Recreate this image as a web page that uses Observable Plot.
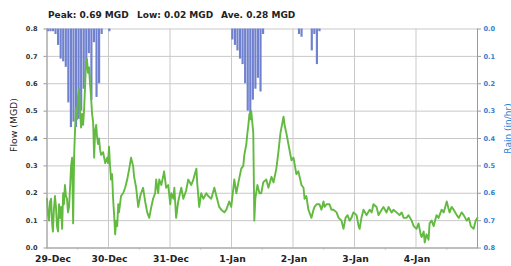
<!DOCTYPE html>
<html>
<head>
<meta charset="utf-8">
<script src="https://cdn.jsdelivr.net/npm/d3@7"></script>
<script src="https://cdn.jsdelivr.net/npm/@observablehq/plot@0.6"></script>
<style>
  html, body { margin: 0; padding: 0; background: #fff; }
  #chart { position: relative; width: 511px; height: 266px; overflow: hidden; }
</style>
</head>
<body>
<div id="chart"></div>
<script>
// ---- Data ----
const statLabels = ["Peak: 0.69 MGD", "Low: 0.02 MGD", "Ave. 0.28 MGD"];
const dayLabels = ["29-Dec", "30-Dec", "31-Dec", "1-Jan", "2-Jan", "3-Jan", "4-Jan"];
const dayHours = [0, 24, 48, 72, 96, 120, 144];
const halfDayHours = [12, 36, 60, 84, 108, 132, 156];
const yTicks = [0, 0.1, 0.2, 0.3, 0.4, 0.5, 0.6, 0.7, 0.8];

// flow (MGD), hours after 29-Dec 00:00
const flowHours = [0,0.4,0.8,1.2,1.6,2.0,2.3,2.7,3.1,3.5,3.9,4.3,4.7,5.1,5.5,5.9,6.3,6.6,7.0,7.4,7.8,8.2,8.6,9.0,9.4,9.8,10.2,10.6,10.9,11.3,11.7,12.1,12.5,12.9,13.3,13.7,14.1,14.5,14.9,15.2,15.6,16.0,16.4,16.8,17.2,17.6,18.0,18.4,18.8,19.2,19.5,19.9,20.3,20.7,21.1,21.9,22.7,23.5,23.8,24.2,24.6,25.0,25.4,25.8,26.2,26.6,27.0,27.4,27.8,28.1,28.9,29.7,30.5,31.3,32.1,32.8,33.6,34.0,34.8,35.6,36.4,36.7,37.5,38.3,39.1,39.9,40.7,41.4,42.2,42.6,43.4,43.8,44.6,45.3,45.7,46.5,47.3,48.1,48.5,49.3,49.7,50.4,51.2,52.4,53.2,54.3,55.1,56.3,57.1,58.3,58.6,59.4,60.2,61.0,62.2,62.9,64.1,65.3,66.1,67.2,68.0,69.2,70.0,71.1,71.9,73.1,73.9,74.7,75.8,76.6,77.0,77.8,78.2,78.6,79.0,79.3,79.7,80.1,80.5,80.9,81.3,82.1,82.9,83.6,84.4,85.6,86.4,87.6,88.4,89.5,90.3,91.1,91.5,91.9,92.3,92.7,93.4,94.2,95.4,96.2,97.3,98.1,99.3,100.1,100.5,101.2,102.0,103.2,104.0,104.4,105.2,106.3,107.1,107.9,108.3,109.1,110.2,111.0,111.8,113.0,113.8,114.9,115.7,116.5,117.3,118.1,118.8,119.6,120.8,121.6,122.0,122.7,123.5,124.7,125.9,126.7,127.4,128.6,129.4,130.6,131.3,132.5,133.3,134.5,135.2,136.4,137.6,138.4,139.2,140.3,141.1,142.3,143.1,144.2,145.0,145.8,146.2,147.0,147.4,148.1,148.9,149.3,150.1,150.9,152.0,152.8,154.0,154.8,156.0,156.8,157.1,157.9,158.7,159.9,160.7,161.8,162.6,163.8,164.6,165.4,166.5,167.3,168.0];
const flowValues = [0.18,0.12,0.10,0.17,0.18,0.09,0.06,0.14,0.19,0.15,0.08,0.06,0.16,0.11,0.15,0.07,0.20,0.16,0.23,0.19,0.18,0.13,0.15,0.22,0.30,0.33,0.09,0.34,0.42,0.51,0.47,0.55,0.58,0.50,0.44,0.49,0.45,0.51,0.60,0.67,0.69,0.64,0.66,0.60,0.55,0.49,0.46,0.33,0.43,0.45,0.41,0.38,0.40,0.36,0.34,0.35,0.31,0.33,0.31,0.37,0.30,0.25,0.27,0.18,0.12,0.05,0.10,0.08,0.16,0.13,0.19,0.20,0.22,0.25,0.29,0.33,0.30,0.26,0.22,0.15,0.19,0.20,0.22,0.17,0.13,0.11,0.15,0.18,0.20,0.25,0.20,0.25,0.23,0.26,0.28,0.22,0.23,0.16,0.20,0.18,0.22,0.11,0.17,0.22,0.18,0.21,0.25,0.23,0.25,0.29,0.24,0.15,0.20,0.18,0.20,0.19,0.18,0.22,0.19,0.15,0.14,0.13,0.14,0.17,0.15,0.25,0.20,0.24,0.29,0.30,0.34,0.38,0.42,0.45,0.49,0.47,0.50,0.46,0.42,0.10,0.18,0.23,0.20,0.20,0.24,0.25,0.22,0.26,0.24,0.29,0.35,0.42,0.44,0.46,0.48,0.45,0.42,0.38,0.32,0.33,0.27,0.28,0.23,0.22,0.18,0.19,0.14,0.11,0.14,0.15,0.16,0.16,0.14,0.17,0.15,0.16,0.16,0.14,0.14,0.13,0.11,0.10,0.07,0.11,0.12,0.10,0.11,0.13,0.12,0.08,0.07,0.11,0.14,0.12,0.14,0.13,0.16,0.15,0.12,0.14,0.15,0.13,0.15,0.13,0.14,0.13,0.12,0.13,0.11,0.11,0.12,0.10,0.08,0.07,0.09,0.05,0.04,0.06,0.02,0.05,0.03,0.09,0.10,0.08,0.12,0.11,0.14,0.13,0.17,0.14,0.13,0.15,0.14,0.12,0.11,0.13,0.12,0.10,0.11,0.08,0.07,0.10,0.11];

// rain (in/hr), hourly, hours after 29-Dec 00:00
const rainHours = [0,1,2,3,4,5,6,7,8,9,10,11,12,13,14,15,16,17,18,19,20,21,24,72,73,74,75,76,77,78,79,80,81,82,83,84,98,99,103,104,105,106];
const rainValues = [0.01,0.01,0.01,0.02,0.06,0.11,0.12,0.14,0.27,0.36,0.34,0.36,0.33,0.30,0.22,0.14,0.09,0.26,0.05,0.25,0.20,0.02,0.01,0.04,0.06,0.08,0.11,0.13,0.20,0.30,0.31,0.26,0.22,0.18,0.23,0.02,0.02,0.03,0.08,0.02,0.13,0.01];

const flowData = flowHours.map((h, i) => ({h, v: flowValues[i]}));
const rainData = rainHours.map((h, i) => ({h, r: rainValues[i]}));
const TOP = 0.8; // rain axis is inverted: 0 in/hr at the top

const GREEN = "#62ba40", BLUE = "#7082cf", AXBLUE = "#2f80d0", GRID = "#c9c9c9";

const chart = Plot.plot({
  width: 511, height: 266,
  marginLeft: 46.5, marginRight: 34, marginTop: 28.5, marginBottom: 18.5,
  x: {type: "linear", domain: [0, 168], label: null},
  y: {domain: [0, 0.8], label: null},
  style: {fontFamily: "DejaVu Sans", background: "#fff", color: "#222", overflow: "visible"},
  marks: [
    Plot.gridY(yTicks, {stroke: GRID, strokeOpacity: 1, strokeWidth: 1}),
    Plot.gridX(dayHours.concat([168]), {stroke: GRID, strokeOpacity: 1, strokeWidth: 1}),
    Plot.rect(rainData, {x1: d => d.h + 0.1, x2: d => d.h + 0.95, y1: TOP, y2: d => TOP - d.r, fill: BLUE}),
    Plot.line(flowData, {x: "h", y: "v", stroke: GREEN, strokeWidth: 1.9, strokeLinejoin: "round"}),
    Plot.frame({anchor: "left", stroke: "#9a9a9a"}),
    Plot.frame({anchor: "right", stroke: "#9a9a9a"}),
    Plot.frame({anchor: "bottom", stroke: "#9a9a9a"}),
    Plot.axisY(yTicks, {anchor: "left", tickSize: 3, tickPadding: 6.5, stroke: "#9a9a9a", label: null,
      tickFormat: d => d.toFixed(1), fontSize: 6.6, fontWeight: "bold", fill: "#333"}),
    Plot.axisY(yTicks, {anchor: "right", tickSize: 3, tickPadding: 3, stroke: "#9a9a9a", label: null,
      tickFormat: d => Math.abs(TOP - d).toFixed(1), fontSize: 6.6, fontWeight: "bold", fill: AXBLUE}),
    Plot.axisX(dayHours.slice(0, 1), {anchor: "bottom", tickSize: 0, tickPadding: 7, label: null, dx: 6,
      tickFormat: () => dayLabels[0], fontSize: 9.2, fontWeight: "bold", fill: "#222"}),
    Plot.axisX(dayHours.slice(1), {anchor: "bottom", tickSize: 0, tickPadding: 7, label: null, dx: 1,
      tickFormat: (d, i) => dayLabels[i + 1], fontSize: 9.2, fontWeight: "bold", fill: "#222"}),
    Plot.axisX(halfDayHours, {anchor: "bottom", tickSize: 2, stroke: "#b0b0b0", label: null,
      tickFormat: () => ""})
  ]
});

document.getElementById("chart").appendChild(chart);

// Titles and axis labels as SVG text
const svg = d3.select(chart.tagName.toLowerCase() === "svg" ? chart : chart.querySelector("svg"));
const statX = [48, 137, 221];
svg.append("g").attr("text-anchor", "start").selectAll("text").data(statLabels).join("text")
  .attr("x", (d, i) => statX[i]).attr("y", 18).attr("text-anchor", "start")
  .attr("font-family", "DejaVu Sans").attr("font-size", 9).attr("font-weight", "bold")
  .attr("fill", "#222").text(d => d);
svg.append("text").attr("transform", "translate(16.5,125) rotate(-90)")
  .attr("text-anchor", "middle").attr("font-family", "DejaVu Sans").attr("font-size", 9.3)
  .attr("fill", "#222").text("Flow (MGD)");
svg.append("text").attr("transform", "translate(510.5,128.5) rotate(-90)")
  .attr("text-anchor", "middle").attr("font-family", "DejaVu Sans").attr("font-size", 9)
  .attr("fill", AXBLUE).text("Rain (in/hr)");
</script>
</body>
</html>
